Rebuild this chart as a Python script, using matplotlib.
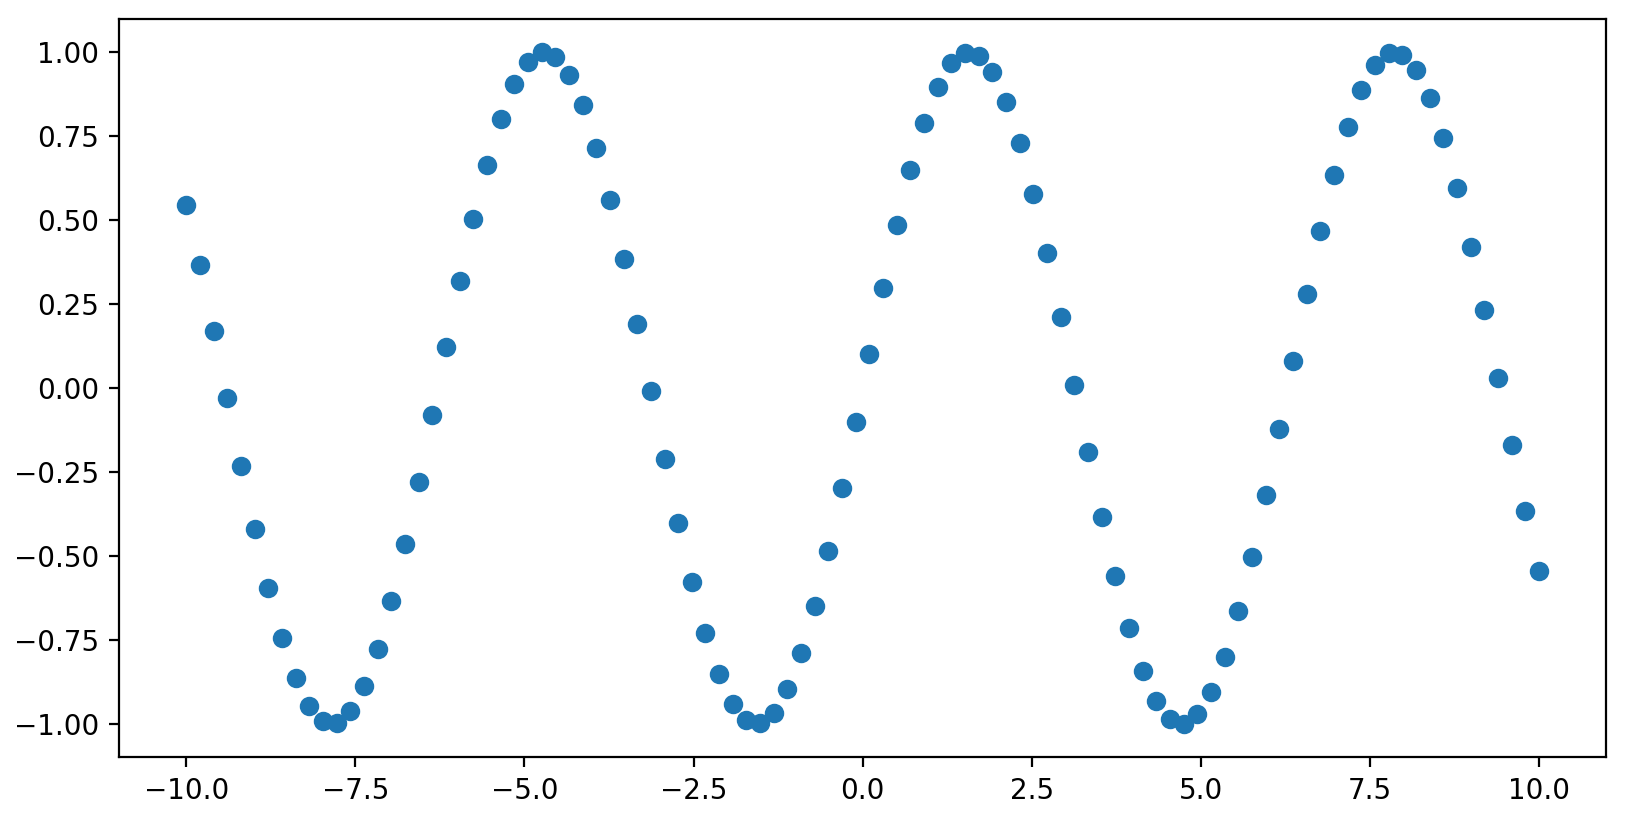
import matplotlib
matplotlib.use("Agg")
import matplotlib.pyplot as plt

# x positions and values (left half; right half mirrors)
x_left = [-10.000, -9.798, -9.596, -9.394, -9.192, -8.990, -8.788, -8.586, -8.384, -8.182,
          -7.980, -7.778, -7.576, -7.374, -7.172, -6.970, -6.768, -6.566, -6.364, -6.162,
          -5.960, -5.758, -5.556, -5.354, -5.152, -4.949, -4.747, -4.545, -4.343, -4.141,
          -3.939, -3.737, -3.535, -3.333, -3.131, -2.929, -2.727, -2.525, -2.323, -2.121,
          -1.919, -1.717, -1.515, -1.313, -1.111, -0.909, -0.707, -0.505, -0.303, -0.101]
y_left = [0.544, 0.365, 0.170, -0.031, -0.231, -0.421, -0.595, -0.744, -0.863, -0.947,
          -0.992, -0.997, -0.961, -0.887, -0.776, -0.634, -0.466, -0.279, -0.080, 0.121,
          0.318, 0.502, 0.665, 0.801, 0.905, 0.972, 0.999, 0.986, 0.933, 0.842,
          0.715, 0.561, 0.385, 0.191, -0.010, -0.211, -0.403, -0.578, -0.730, -0.852,
          -0.940, -0.989, -0.998, -0.967, -0.896, -0.789, -0.650, -0.484, -0.298, -0.101]

x_right = [0.101, 0.303, 0.505, 0.707, 0.909, 1.111, 1.313, 1.515, 1.717, 1.919,
           2.121, 2.323, 2.525, 2.727, 2.929, 3.131, 3.333, 3.535, 3.737, 3.939,
           4.141, 4.343, 4.545, 4.747, 4.949, 5.152, 5.354, 5.556, 5.758, 5.960,
           6.162, 6.364, 6.566, 6.768, 6.970, 7.172, 7.374, 7.576, 7.778, 7.980,
           8.182, 8.384, 8.586, 8.788, 8.990, 9.192, 9.394, 9.596, 9.798, 10.000]
y_right = [0.101, 0.298, 0.484, 0.650, 0.789, 0.896, 0.967, 0.998, 0.989, 0.940,
           0.852, 0.730, 0.578, 0.403, 0.211, 0.010, -0.191, -0.385, -0.561, -0.715,
           -0.842, -0.933, -0.986, -0.999, -0.972, -0.905, -0.801, -0.665, -0.502, -0.318,
           -0.121, 0.080, 0.279, 0.466, 0.634, 0.776, 0.887, 0.961, 0.997, 0.992,
           0.947, 0.863, 0.744, 0.595, 0.421, 0.231, 0.031, -0.170, -0.365, -0.544]

xs = x_left + x_right
ys = y_left + y_right

fig = plt.figure(figsize=(8.13, 4.11), dpi=200)
ax = fig.add_subplot(1, 1, 1)
ax.scatter(xs, ys, color="#1f77b4")
plt.subplots_adjust(left=0.073, right=0.988, top=0.977, bottom=0.079)
fig.savefig("out.png", dpi=200)
